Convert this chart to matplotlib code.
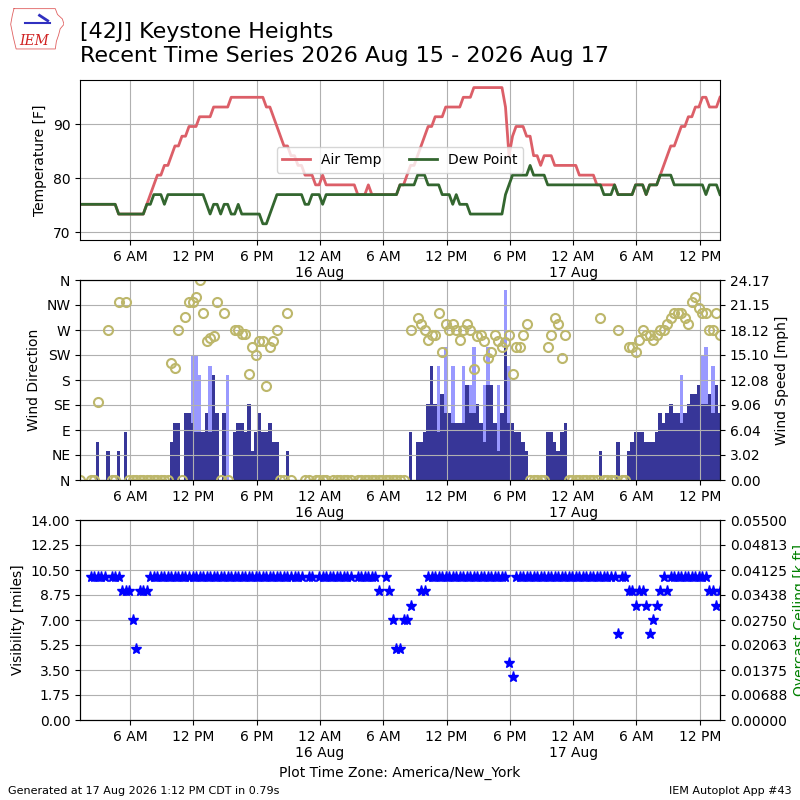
import numpy as np
import pandas as pd
import matplotlib
matplotlib.use("Agg")
import matplotlib.pyplot as plt
import matplotlib.dates as mdates
from matplotlib.ticker import FuncFormatter, FormatStrFormatter

nan = np.nan

# 20 minute observations, 2026-08-15 01:15 .. 2026-08-17 13:55 (America/New_York)
start_time = "2026-08-15 01:15"

# air temperature [F]
tmpf = [
    75.2, 75.2, 75.2, 75.2, 75.2, 75.2, 75.2, 75.2, 75.2, 75.2, 75.2, 73.4,
    73.4, 73.4, 73.4, 73.4, 73.4, 73.4, 73.4, 75.2, 77.0, 78.8, 80.6, 80.6,
    82.4, 82.4, 84.2, 86.0, 86.0, 87.8, 87.8, 89.6, 89.6, 89.6, 91.4, 91.4,
    91.4, 91.4, 93.2, 93.2, 93.2, 93.2, 93.2, 95.0, 95.0, 95.0, 95.0, 95.0,
    95.0, 95.0, 95.0, 95.0, 95.0, 93.2, 93.2, 91.4, 89.6, 87.8, 86.0, 86.0,
    84.2, 84.2, 82.4, 82.4, 80.6, 80.6, 80.6, 78.8, 78.8, 80.6, 78.8, 78.8,
    78.8, 78.8, 78.8, 78.8, 78.8, 78.8, 78.8, 77.0, 77.0, 77.0, 78.8, 77.0,
    77.0, 77.0, 77.0, 77.0, 77.0, 77.0, 77.0, 78.8, 78.8, 80.6, 82.4, 82.4,
    84.2, 86.0, 87.8, 89.6, 89.6, 91.4, 91.4, 91.4, 93.2, 93.2, 93.2, 93.2,
    93.2, 95.0, 95.0, 95.0, 96.8, 96.8, 96.8, 96.8, 96.8, 96.8, 96.8, 96.8,
    96.8, 93.2, 84.2, 87.8, 89.6, 89.6, 89.6, 87.8, 87.8, 84.2, 84.2, 82.4,
    84.2, 84.2, 84.2, 82.4, 82.4, 82.4, 82.4, 82.4, 82.4, 82.4, 80.6, 80.6,
    80.6, 80.6, 80.6, 78.8, 78.8, 78.8, 78.8, 78.8, 78.8, 77.0, 77.0, 77.0,
    77.0, 77.0, 78.8, 78.8, 78.8, 77.0, 78.8, 78.8, 78.8, 80.6, 82.4, 84.2,
    86.0, 86.0, 87.8, 89.6, 89.6, 91.4, 91.4, 93.2, 93.2, 95.0, 95.0, 93.2,
    93.2, 93.2, 95.0,
]

# dew point [F]
dwpf = [
    75.2, 75.2, 75.2, 75.2, 75.2, 75.2, 75.2, 75.2, 75.2, 75.2, 75.2, 73.4,
    73.4, 73.4, 73.4, 73.4, 73.4, 73.4, 73.4, 75.2, 75.2, 77.0, 77.0, 77.0,
    75.2, 77.0, 77.0, 77.0, 77.0, 77.0, 77.0, 77.0, 77.0, 77.0, 77.0, 77.0,
    75.2, 73.4, 75.2, 75.2, 73.4, 75.2, 75.2, 73.4, 73.4, 75.2, 73.4, 73.4,
    73.4, 73.4, 73.4, 73.4, 71.6, 71.6, 73.4, 75.2, 77.0, 77.0, 77.0, 77.0,
    77.0, 77.0, 77.0, 77.0, 75.2, 75.2, 77.0, 77.0, 77.0, 75.2, 77.0, 77.0,
    77.0, 77.0, 77.0, 77.0, 77.0, 77.0, 77.0, 77.0, 77.0, 77.0, 77.0, 77.0,
    77.0, 77.0, 77.0, 77.0, 77.0, 77.0, 77.0, 78.8, 78.8, 78.8, 78.8, 78.8,
    80.6, 80.6, 80.6, 78.8, 78.8, 78.8, 78.8, 77.0, 77.0, 77.0, 75.2, 77.0,
    75.2, 75.2, 75.2, 73.4, 73.4, 73.4, 73.4, 73.4, 73.4, 73.4, 73.4, 73.4,
    73.4, 77.0, 78.8, 80.6, 80.6, 80.6, 80.6, 80.6, 82.4, 80.6, 80.6, 80.6,
    80.6, 78.8, 78.8, 78.8, 78.8, 78.8, 78.8, 78.8, 78.8, 78.8, 78.8, 78.8,
    78.8, 78.8, 78.8, 78.8, 78.8, 77.0, 77.0, 77.0, 78.8, 77.0, 77.0, 77.0,
    77.0, 77.0, 78.8, 78.8, 78.8, 77.0, 78.8, 78.8, 78.8, 80.6, 80.6, 80.6,
    80.6, 78.8, 78.8, 78.8, 78.8, 78.8, 78.8, 78.8, 78.8, 78.8, 77.0, 78.8,
    78.8, 78.8, 77.0,
]

# wind speed [kt]  (0 = calm, nan = missing)
sknt = [
    0, nan, nan, 0, 0, 4, nan, nan, 3, 0, 0, 3,
    nan, 5, 0, 0, 0, 0, 0, 0, 0, 0, 0, 0,
    0, 0, 4, 6, 6, 0, 7, 7, 6, 5, 5, 5,
    7, 5, 11, 7, 0, 7, 0, nan, 5, 6, 6, 5,
    8, 3, 5, 7, 5, 5, 6, 4, 4, 0, 0, 3,
    0, nan, nan, nan, 0, 0, nan, 0, 0, 0, 0, nan,
    0, 0, 0, 0, 0, 0, nan, 0, 0, 0, 0, 0,
    0, 0, 0, 0, 0, 0, 0, 0, 0, nan, 5, nan,
    4, 4, 5, 8, 12, 8, 5, 9, 7, 7, 6, 6,
    6, 6, 10, 7, 7, 8, 6, 4, 10, 10, 6, 3,
    7, 14, 6, 6, 5, 5, 4, 3, 0, 0, 0, 0,
    0, 5, 5, 4, 3, 5, 6, 0, 0, 0, 0, 0,
    0, 0, 0, 0, 3, 0, 0, 0, 0, 4, 0, 0,
    3, 4, 5, 5, 5, 4, 4, 4, 5, 7, 6, 7,
    8, 7, 7, 6, 7, 8, 9, 9, 10, 8, 8, 9,
    7, 10, 7,
]

# wind gust [kt]
gust = [
    nan, nan, nan, nan, nan, nan, nan, nan, nan, nan, nan, nan,
    nan, nan, nan, nan, nan, nan, nan, nan, nan, nan, nan, nan,
    nan, nan, nan, nan, nan, nan, nan, nan, 13, 13, 11, nan,
    nan, 12, nan, nan, nan, nan, 11, nan, nan, nan, nan, nan,
    nan, nan, nan, nan, nan, nan, nan, nan, nan, nan, nan, nan,
    nan, nan, nan, nan, nan, nan, nan, nan, nan, nan, nan, nan,
    nan, nan, nan, nan, nan, nan, nan, nan, nan, nan, nan, nan,
    nan, nan, nan, nan, nan, nan, nan, nan, nan, nan, nan, nan,
    nan, nan, nan, nan, nan, nan, 12, nan, 14, nan, 12, nan,
    nan, 12, nan, 10, 14, nan, nan, 10, 14, nan, nan, 10,
    nan, 20, 12, nan, nan, nan, nan, nan, nan, nan, nan, nan,
    nan, nan, nan, nan, nan, nan, nan, nan, nan, nan, nan, nan,
    nan, nan, nan, nan, nan, nan, nan, nan, nan, nan, nan, nan,
    nan, nan, nan, nan, nan, nan, nan, nan, nan, nan, nan, nan,
    nan, nan, nan, 11, nan, nan, nan, nan, nan, 13, 14, nan,
    12, nan, nan,
]

# wind direction [deg]
drct = [
    0, nan, nan, 0, 0, 140, nan, nan, 270, 0, 0, 320,
    nan, 320, 0, 0, 0, 0, 0, 0, 0, 0, 0, 0,
    0, 0, 210, 201, 270, 0, 293, 320, 320, 330, 360, 300,
    250, 255, 260, 320, 0, 300, 0, nan, 270, 270, 262, 262,
    190, 240, 225, 250, 250, 170, 240, 250, 270, 0, 0, 300,
    0, nan, nan, nan, 0, 0, nan, 0, 0, 0, 0, nan,
    0, 0, 0, 0, 0, 0, nan, 0, 0, 0, 0, 0,
    0, 0, 0, 0, 0, 0, 0, 0, 0, nan, 270, nan,
    291, 280, 270, 252, 261, 261, 300, 230, 280, 270, 280, 270,
    252, 270, 280, 270, 199, 260, 261, 250, 220, 231, 261, 250,
    239, 249, 261, 190, 239, 239, 261, 280, 0, 0, 0, 0,
    0, 239, 261, 291, 280, 220, 261, 0, 0, 0, 0, 0,
    0, 0, 0, 0, 291, 0, 0, 0, 0, 270, 0, 0,
    239, 239, 230, 252, 270, 261, 261, 252, 261, 270, 270, 280,
    291, 300, 300, 300, 291, 280, 320, 330, 310, 300, 300, 270,
    270, 300, 261,
]

# visibility [miles]
vsby = [
    nan, nan, nan, 10, 10, 10, 10, 10, nan, 10, 10, 10,
    9, 9, 9, 7, 5, 9, 9, 9, 10, 10, 10, 10,
    10, 10, 10, 10, 10, 10, 10, 10, 10, 10, 10, 10,
    10, 10, 10, 10, 10, 10, 10, 10, 10, 10, 10, 10,
    10, 10, 10, 10, 10, 10, 10, 10, 10, 10, 10, 10,
    10, 10, 10, 10, nan, 10, 10, nan, 10, 10, 10, 10,
    10, 10, 10, 10, 10, 10, nan, 10, 10, 10, 10, 10,
    10, 9, nan, 10, 9, 7, 5, 5, 7, 7, 8, nan,
    nan, 9, 9, 10, 10, 10, 10, 10, 10, 10, 10, 10,
    10, 10, 10, 10, 10, 10, 10, 10, 10, 10, 10, 10,
    10, 10, 4, 3, 10, 10, 10, 10, 10, 10, 10, 10,
    10, 10, 10, 10, 10, 10, 10, 10, 10, 10, 10, 10,
    10, 10, 10, 10, 10, 10, 10, 10, 10, 6, 10, 10,
    9, 9, 8, 9, 9, 8, 6, 7, 8, 9, 10, 9,
    10, 10, 10, 10, 10, 10, 10, 10, 10, 10, 10, 9,
    9, 8, 9,
]

dir_labels = ["N", "NE", "E", "SE", "S", "SW", "W", "NW", "N"]

valid = pd.date_range(start_time, periods=len(tmpf), freq="20min").to_pydatetime()
x = mdates.date2num(valid)
smph = np.array(sknt, dtype=float) * 1.15078
gmph = np.array(gust, dtype=float) * 1.15078


def timefmt(val, pos):
    d = mdates.num2date(val)
    if d.hour == 0:
        return "12 AM\n" + d.strftime("%-d %b")
    return d.strftime("%-I %p")


def setup_time(ax):
    ax.xaxis.set_major_locator(mdates.HourLocator(byhour=[0, 6, 12, 18]))
    ax.xaxis.set_major_formatter(FuncFormatter(timefmt))
    ax.set_xlim(x[0], x[-1])


fig = plt.figure(figsize=(8, 8), dpi=100)

# title + logo
fig.text(0.1, 0.945, "[42J] Keystone Heights\nRecent Time Series 2026 Aug 15 - 2026 Aug 17",
         fontsize=16, va="center", ha="left")
lax = fig.add_axes([0.012, 0.936, 0.068, 0.056])
lax.axis("off")
lax.set_xlim(0, 1)
lax.set_ylim(0, 1)
iowa = [(0.08, 0.95), (0.84, 0.95), (0.88, 0.82), (0.97, 0.72), (1.0, 0.6),
        (0.93, 0.5), (0.9, 0.36), (0.86, 0.22), (0.84, 0.05), (0.12, 0.05),
        (0.07, 0.3), (0.02, 0.6), (0.05, 0.8), (0.08, 0.95)]
lax.plot([p[0] for p in iowa], [p[1] for p in iowa], color="#e06060", lw=0.6)
lax.plot([0.28, 0.75], [0.62, 0.62], color="#3030c0", lw=1.5)
lax.plot([0.55, 0.7], [0.8, 0.68], color="#3030c0", lw=2)
lax.text(0.45, 0.22, "IEM", color="#d02020", fontsize=10, style="italic",
         family="DejaVu Serif", ha="center", va="center")

# temperature panel
ax1 = fig.add_axes([0.1, 0.7, 0.8, 0.2])
ax1.plot(x, tmpf, color="#dc5f68", lw=2, label="Air Temp")
ax1.plot(x, dwpf, color="#33662f", lw=2, label="Dew Point")
ax1.set_ylim(68.6, 98.2)
ax1.set_ylabel("Temperature [F]")
ax1.grid(True)
ax1.legend(loc="center", ncol=2)
setup_time(ax1)

# wind panel
ax2 = fig.add_axes([0.1, 0.4, 0.8, 0.25])
ax2b = ax2.twinx()
ax2b.bar(x, gmph, width=1 / 72.0, color="#9999ff", align="center")
ax2b.bar(x, smph, width=1 / 72.0, color="#373698", align="center")
top = np.nanmax(gmph) * 1.05
ax2b.set_ylim(0, top)
ax2b.set_yticks(np.linspace(0, top, 9))
ax2b.yaxis.set_major_formatter(FormatStrFormatter("%.2f"))
ax2b.set_ylabel("Wind Speed [mph]")
ax2.set_zorder(ax2b.get_zorder() + 1)
ax2.patch.set_visible(False)
ax2.plot(x, drct, linestyle="none", marker="o", ms=6.5, mfc="none",
         mec="#bdb76b", mew=1.5)
ax2.set_ylim(0, 360)
ax2.set_yticks(np.arange(0, 361, 45))
ax2.set_yticklabels(dir_labels)
ax2.set_ylabel("Wind Direction")
ax2.grid(True)
setup_time(ax2)

# visibility panel
ax3 = fig.add_axes([0.1, 0.1, 0.8, 0.25])
ax3.plot(x, vsby, linestyle="none", marker="*", ms=8, color="b")
ax3.set_ylim(0, 14)
ax3.set_yticks(np.linspace(0, 14, 9))
ax3.yaxis.set_major_formatter(FormatStrFormatter("%.2f"))
ax3.set_ylabel("Visibility [miles]")
ax3.grid(True)
setup_time(ax3)
ax3.set_xlabel("Plot Time Zone: America/New_York")
ax3b = ax3.twinx()
ax3b.set_ylim(0, 0.055)
ax3b.set_yticks(np.linspace(0, 0.055, 9))
ax3b.yaxis.set_major_formatter(FormatStrFormatter("%.5f"))
ax3b.set_ylabel("Overcast Ceiling [k ft]", color="g")
setup_time(ax3b)

fig.text(0.01, 0.008, "Generated at 17 Aug 2026 1:12 PM CDT in 0.79s", fontsize=8)
fig.text(0.99, 0.008, "IEM Autoplot App #43", fontsize=8, ha="right")

fig.savefig("out.png", dpi=100)
